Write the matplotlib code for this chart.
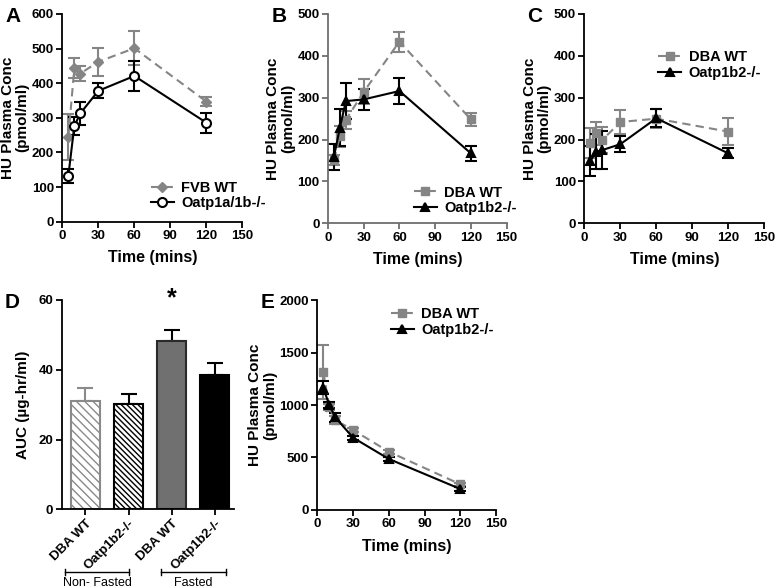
import numpy as np
import matplotlib
matplotlib.use('Agg')
import matplotlib.pyplot as plt
from matplotlib.lines import Line2D
from matplotlib.transforms import blended_transform_factory

plt.rcParams['font.family'] = ['Liberation Sans', 'DejaVu Sans']
plt.rcParams['font.weight'] = 'bold'
plt.rcParams['hatch.linewidth'] = 1.0

# time points (mins)
t = [5, 10, 15, 30, 60, 120]
time_ticks = [0, 30, 60, 90, 120, 150]

# panel A
fvb_wt = [245, 443, 428, 462, 501, 347]
fvb_wt_err = [67, 29, 22, 41, 49, 14]
oatp1a1b = [132, 276, 313, 378, 421, 286]
oatp1a1b_err = [20, 27, 34, 22, 44, 29]

# panel B
dba_b = [151, 208, 247, 314, 434, 248]
dba_b_err = [12, 25, 22, 30, 24, 16]
oatp1b2_b = [159, 228, 292, 296, 316, 167]
oatp1b2_b_err = [31, 44, 42, 26, 30, 18]

# panel C
dba_c = [192, 215, 199, 242, 250, 219]
dba_c_err = [35, 28, 32, 29, 22, 32]
oatp1b2_c = [149, 171, 175, 189, 251, 167]
oatp1b2_c_err = [36, 42, 45, 19, 22, 12]

# panel D
auc_labels = ['DBA WT', 'Oatp1b2-/-', 'DBA WT', 'Oatp1b2-/-']
auc = [31.1, 30.2, 48.3, 38.6]
auc_err = [3.6, 2.8, 3.1, 3.4]

# panel E
dba_e = [1317, 984, 857, 762, 555, 245]
dba_e_err = [255, 30, 40, 20, 20, 15]
oatp1b2_e = [1165, 1000, 883, 689, 486, 200]
oatp1b2_e_err = [60, 30, 45, 20, 20, 15]

GRAY = '#858585'

fig = plt.figure(figsize=(7.77, 5.88), dpi=100)


def style_axes(ax, spine_color='black'):
    for s in ['top', 'right']:
        ax.spines[s].set_visible(False)
    for s in ['left', 'bottom']:
        ax.spines[s].set_linewidth(1.3)
        ax.spines[s].set_color(spine_color)
    ax.tick_params(direction='out', length=4, width=1.3, labelsize=9.5,
                   color=spine_color, pad=2)
    for lbl in ax.get_xticklabels() + ax.get_yticklabels():
        lbl.set_fontweight('bold')


def time_panel(rect, wt, wt_err, ko, ko_err, wt_label, ko_label, ymax, ystep,
               wt_marker, ko_marker, ko_face, leg_xy, letter, spine_color='black'):
    ax = fig.add_axes(rect)
    ko_ms = 6.5 if ko_marker == 'o' else 6
    wt_ms = 5.5 if wt_marker == 'D' else 6
    ax.errorbar(t, wt, yerr=wt_err, color=GRAY, ls=(0, (4, 2.5)), lw=1.5,
                marker=wt_marker, ms=wt_ms, mfc=GRAY, mec=GRAY, capsize=4,
                elinewidth=1.5, capthick=1.5)
    ax.errorbar(t, ko, yerr=ko_err, color='black', ls='-', lw=1.5,
                marker=ko_marker, ms=ko_ms, mfc=ko_face, mec='black', mew=1.5,
                capsize=4, elinewidth=1.5, capthick=1.5)
    ax.set_xlim(0, 150)
    ax.set_ylim(0, ymax)
    ax.set_xticks(time_ticks)
    ax.set_yticks(np.arange(0, ymax + 1, ystep))
    ax.set_xlabel('Time (mins)', fontsize=11.5, fontweight='bold', labelpad=6)
    ax.set_ylabel('HU Plasma Conc\n(pmol/ml)', fontsize=11, fontweight='bold',
                  labelpad=1.5, linespacing=1.1)
    style_axes(ax, spine_color)
    handles = [
        Line2D([], [], color=GRAY, ls=(0, (4, 2.5)), lw=1.5, marker=wt_marker,
               ms=wt_ms, mfc=GRAY, mec=GRAY),
        Line2D([], [], color='black', ls='-', lw=1.5, marker=ko_marker,
               ms=ko_ms, mfc=ko_face, mec='black', mew=1.5),
    ]
    leg = ax.legend(handles, [wt_label, ko_label], loc='center left',
                    bbox_to_anchor=leg_xy, frameon=False, fontsize=10.5,
                    handlelength=1.6, handletextpad=0.5, labelspacing=0.1,
                    borderpad=0, borderaxespad=0)
    for txt in leg.get_texts():
        txt.set_fontweight('bold')
    fig.text(rect[0] - 0.073, rect[1] + rect[3] + 0.012, letter, fontsize=15,
             fontweight='bold', va='top', ha='left')
    return ax


time_panel([0.0802, 0.623, 0.2317, 0.3532], fvb_wt, fvb_wt_err, oatp1a1b,
           oatp1a1b_err, 'FVB WT', 'Oatp1a/1b-/-', 600, 100, 'D', 'o', 'white',
           (0.49, 0.125), 'A')
time_panel([0.4221, 0.6202, 0.230, 0.356], dba_b, dba_b_err, oatp1b2_b,
           oatp1b2_b_err, 'DBA WT', 'Oatp1b2-/-', 500, 100, 's', '^', 'black',
           (0.48, 0.11), 'B', spine_color='#6e6e6e')
time_panel([0.752, 0.6202, 0.2317, 0.356], dba_c, dba_c_err, oatp1b2_c,
           oatp1b2_c_err, 'DBA WT', 'Oatp1b2-/-', 500, 100, 's', '^', 'black',
           (0.41, 0.756), 'C')
time_panel([0.4084, 0.1327, 0.230, 0.357], dba_e, dba_e_err, oatp1b2_e,
           oatp1b2_e_err, 'DBA WT', 'Oatp1b2-/-', 2000, 500, 's', '^', 'black',
           (0.41, 0.895), 'E')

# panel D: AUC bars
axd = fig.add_axes([0.0794, 0.1338, 0.222, 0.356])
x = np.arange(len(auc))
faces = ['white', 'white', '#707070', 'black']
edges = ['#8a8a8a', 'black', '#2a2a2a', 'black']
hatches = ['\\\\\\\\', '\\\\\\\\\\\\', None, None]
err_colors = ['#8a8a8a', 'black', 'black', 'black']
for xi, v, e, fc, ec, h, c in zip(x, auc, auc_err, faces, edges, hatches,
                                  err_colors):
    axd.bar(xi, v, width=0.67, color=fc, edgecolor=ec, hatch=h, linewidth=1.5,
            zorder=2)
    axd.errorbar(xi, v, yerr=[[0], [e]], color=c, capsize=6, elinewidth=1.5,
                 capthick=1.5, zorder=1)
axd.set_xlim(-0.55, 3.45)
axd.set_ylim(0, 60)
axd.set_yticks([0, 20, 40, 60])
axd.set_xticks(x)
axd.set_xticklabels(auc_labels, rotation=45, ha='right', rotation_mode='anchor')
axd.set_ylabel('AUC (µg-hr/ml)', fontsize=11, fontweight='bold', labelpad=6)
style_axes(axd)
for lbl in axd.get_xticklabels():
    lbl.set_fontsize(9.5)
axd.text(2, 60.6, '*', fontsize=18, fontweight='bold', ha='center',
         va='center')

tr = blended_transform_factory(axd.transData, axd.transAxes)
for x0, x1, name in [(-0.47, 1.02, 'Non- Fasted'), (1.76, 3.25, 'Fasted')]:
    axd.plot([x0, x1], [-0.30, -0.30], color='black', lw=1, transform=tr,
             clip_on=False)
    for xe in (x0, x1):
        axd.plot([xe, xe], [-0.285, -0.315], color='black', lw=1, transform=tr,
                 clip_on=False)
    axd.text((x0 + x1) / 2, -0.322, name, transform=tr, ha='center', va='top',
             fontsize=9, fontweight='normal')
fig.text(0.006, 0.4898 + 0.012, 'D', fontsize=15, fontweight='bold', va='top',
         ha='left')

fig.savefig('out.png', dpi=100)
